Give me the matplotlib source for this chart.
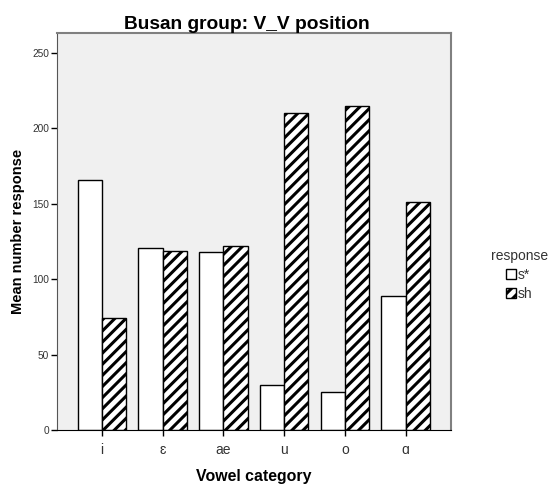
import numpy as np
import matplotlib
matplotlib.use("Agg")
import matplotlib.pyplot as plt

plt.rcParams['font.family'] = ['Liberation Sans', 'DejaVu Sans']
plt.rcParams['hatch.linewidth'] = 2.2

# data
vowels = ['i', 'ɛ', 'ae', 'u', 'o', 'ɑ']
s_star = [166, 121, 118, 30, 25, 89]
sh = [74, 119, 122, 210, 215, 151]
y_ticks = [0, 50, 100, 150, 200, 250]

fig = plt.figure(figsize=(5.6, 4.86), dpi=100)
ax = fig.add_axes([0.1012, 0.1152, 0.704, 0.8169])
ax.set_facecolor('#f0f0f0')

x = np.arange(len(vowels))
w = 0.40
ax.bar(x - w / 2, s_star, width=w, color='white', edgecolor='black',
       linewidth=1.0, label='s*', zorder=2)
ax.bar(x + w / 2, sh, width=w, color='white', edgecolor='black',
       hatch='///', linewidth=1.0, label='sh', zorder=2)

ax.set_xlim(-0.746, len(vowels) - 1 + 0.746)
ax.set_ylim(0, 263.3)
ax.set_xticks(x)
ax.set_xticklabels(vowels, fontsize=10, color='#333333')
ax.set_yticks(y_ticks)
ax.set_yticklabels([str(v) for v in y_ticks], fontsize=7.3, color='#333333')
ax.tick_params(axis='both', direction='out', length=4, width=1, color='black', pad=1.5)
ax.tick_params(axis='x', pad=5)

for s in ['top', 'right']:
    ax.spines[s].set_color('#808080')
    ax.spines[s].set_linewidth(1.5)
ax.spines['left'].set_color('#555555')
ax.spines['bottom'].set_color('black')

title = ax.set_title('Busan group: V_V position', fontsize=13.8, fontweight='bold', pad=1)
title.set_x(0.483)
ax.set_xlabel('Vowel category', fontsize=11.4, fontweight='bold', labelpad=9)
ax.set_ylabel('Mean number response', fontsize=10.5, fontweight='bold', labelpad=5)

leg = ax.legend(title='response', loc='center', bbox_to_anchor=(1.173, 0.39),
                frameon=False, fontsize=10, title_fontsize=10,
                handlelength=0.75, handleheight=0.7, handletextpad=0.1,
                labelspacing=0.35, alignment='center', borderaxespad=0)
for t in leg.get_texts():
    t.set_color('#333333')
leg.get_title().set_color('#333333')

fig.savefig('out.png', dpi=100)
